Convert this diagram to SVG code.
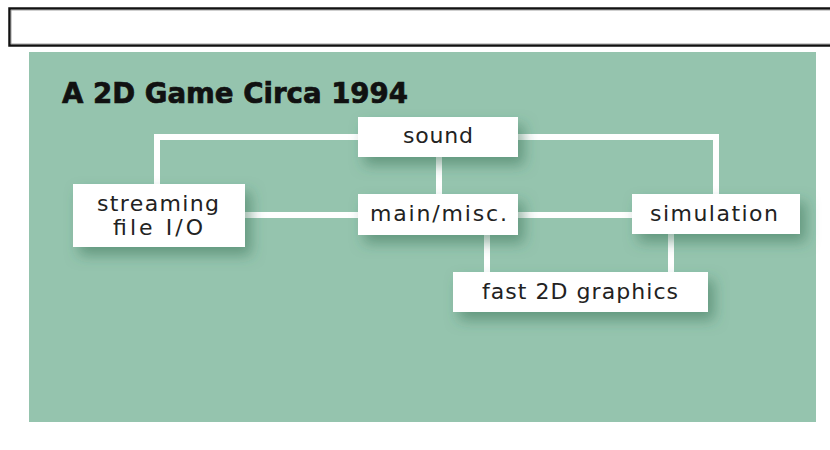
<svg xmlns="http://www.w3.org/2000/svg" width="830" height="450" viewBox="0 0 830 450">
  <style>
    .box { fill: #ffffff; filter: url(#shadow); }
    .lbl { font-family: "DejaVu Sans", Verdana, sans-serif; font-size: 22px; fill: #222222; }
    .title { font-family: "DejaVu Sans", Verdana, sans-serif; font-size: 28px; font-weight: bold; fill: #111111; stroke: #111111; stroke-width: 0.7; }
    .conn { stroke: #ffffff; stroke-width: 6; fill: none; stroke-linejoin: miter; stroke-linecap: square; }
  </style>
  <defs>
    <filter id="shadow" x="-20%" y="-40%" width="150%" height="200%">
      <feDropShadow dx="6" dy="8" stdDeviation="7" flood-color="#2f6a50" flood-opacity="0.5"/>
    </filter>
  </defs>

  <rect x="0" y="0" width="830" height="450" fill="#ffffff"/>
  <rect x="9.5" y="8.5" width="830" height="37" fill="#ffffff" stroke="#111111" stroke-width="2.5"/>
  <rect x="11" y="10" width="830" height="34" fill="none" stroke="#888888" stroke-width="0.8"/>

  <rect x="29" y="52" width="787" height="370" fill="#95c4ae"/>

  <text class="title" x="62" y="103" textLength="346" lengthAdjust="spacingAndGlyphs">A 2D Game Circa 1994</text>

  <g id="connectors">
    <polyline class="conn" points="157,184 157,137 358,137"/>
    <polyline class="conn" points="518,137 716,137 716,194"/>
    <line class="conn" x1="439" y1="157" x2="439" y2="194"/>
    <line class="conn" x1="245" y1="215" x2="358" y2="215"/>
    <line class="conn" x1="518" y1="215" x2="632" y2="215"/>
    <line class="conn" x1="487" y1="235" x2="487" y2="272"/>
    <line class="conn" x1="671" y1="234" x2="671" y2="272"/>
  </g>

  <g id="node-sound">
    <rect class="box" x="358" y="117" width="160" height="40"/>
    <text class="lbl" x="403" y="143" textLength="70" lengthAdjust="spacing">sound</text>
  </g>
  <g id="node-streaming">
    <rect class="box" x="73" y="184" width="172" height="63"/>
    <text class="lbl" x="97" y="211" textLength="122" lengthAdjust="spacing">streaming</text>
    <text class="lbl" x="113" y="235" textLength="90" lengthAdjust="spacing">file I/O</text>
  </g>
  <g id="node-main">
    <rect class="box" x="358" y="194" width="160" height="41"/>
    <text class="lbl" x="370" y="221" textLength="137" lengthAdjust="spacing">main/misc.</text>
  </g>
  <g id="node-simulation">
    <rect class="box" x="632" y="194" width="168" height="40"/>
    <text class="lbl" x="650" y="221" textLength="128" lengthAdjust="spacing">simulation</text>
  </g>
  <g id="node-graphics">
    <rect class="box" x="453" y="272" width="255" height="40"/>
    <text class="lbl" x="482" y="299" textLength="196" lengthAdjust="spacing">fast 2D graphics</text>
  </g>
</svg>
